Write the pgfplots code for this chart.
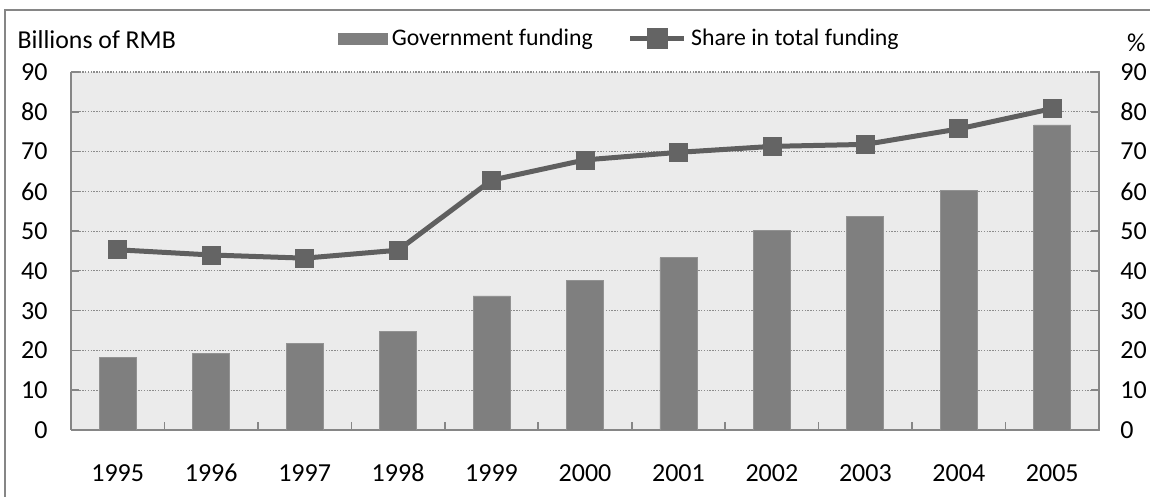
\documentclass[border=0pt]{standalone}
\usepackage{pgfplots}
\pgfplotsset{compat=1.18}
\usepackage{fontspec}
\setmainfont{Carlito}[Numbers=Lining]
\definecolor{bargray}{HTML}{7F7F7F}
\definecolor{linegray}{HTML}{5F5F5F}
\definecolor{markgray}{HTML}{646464}
\definecolor{bggray}{HTML}{EBEBEB}
\definecolor{axgray}{HTML}{868686}
\definecolor{gridgray}{HTML}{8C8C8C}
\newcommand{\fs}{\fontsize{13pt}{15.5pt}\selectfont}
\newcommand{\fl}{\fontsize{11.9pt}{14.5pt}\selectfont}
\newcommand{\ft}{\fontsize{12.9pt}{15.5pt}\selectfont}
\pgfplotsset{
  barlegend/.style={legend image code/.code={\fill[bargray] (0pt,-2.75pt) rectangle (24.5pt,2.75pt);}},
  linelegend/.style={legend image code/.code={%
    \draw[linegray, line width=2.8pt] (0pt,0pt) -- (27pt,0pt);
    \fill[markgray] (9.5pt,-4pt) rectangle (17.5pt,4pt);}},
}
\begin{document}
\begin{tikzpicture}
\path[use as bounding box] (0,0) rectangle (575pt,248.5pt);
\draw[color=axgray, line width=0.9pt] (2.5pt,-2pt) -- (2.5pt,243.5pt) -- (578pt,243.5pt);
\node[anchor=base west, inner sep=0pt, font=\ft] at (8.65pt,224.35pt) {Billions of RMB};
\node[anchor=base, inner sep=0pt, font=\ft] at (568.2pt,222.5pt) {\%};

\begin{axis}[
  at={(35.5pt,33.5pt)}, anchor=south west,
  width=514pt, height=179pt, scale only axis,
  xmin=-0.5, xmax=10.5, ymin=0, ymax=90,
  axis x line*=bottom, axis y line*=left,
  axis line style={axgray, line width=0.8pt},
  axis background/.style={fill=bggray},
  xtick={0.5,1.5,...,9.5}, xticklabels={},
  extra x ticks={0,1,...,10},
  extra x tick labels={1995,1996,1997,1998,1999,2000,2001,2002,2003,2004,2005},
  extra x tick style={major tick length=0pt},
  ytick={0,10,...,90},
  tick align=inside, major tick length=4pt,
  tick style={axgray, line width=0.8pt},
  ymajorgrids,
  grid style={gridgray, line width=0.6pt, dash pattern=on 0.7pt off 0.7pt},
  tick label style={font=\fs, text=black},
  /pgf/number format/assume math mode=true,
  yticklabel style={xshift=-8.2pt},
  xticklabel style={anchor=base, yshift=-26pt},
  legend columns=2,
  legend cell align=left,
  legend style={draw=none, fill=none, font=\fl, inner sep=0pt, outer sep=0pt,
    at={(0.2597,1.0936)}, anchor=west, column sep=0pt,
    /tikz/every even column/.append style={column sep=15.4pt}},
]
\addplot[ybar, bar width=18.5pt, bar shift=0pt, fill=bargray, draw=bargray!85!white, line width=0.4pt, barlegend]
  coordinates {(0,18.2) (1,19.2) (2,21.7) (3,24.7) (4,33.7) (5,37.6) (6,43.3) (7,50.2) (8,53.7) (9,60.2) (10,76.7)};
\addlegendentry{Government funding}
\addplot[sharp plot, color=linegray, line width=2.5pt, mark=square*, mark size=4.5pt,
  mark options={fill=markgray, draw=markgray, line width=0.4pt}, linelegend]
  coordinates {(0,45.3) (1,44.0) (2,43.2) (3,45.2) (4,62.8) (5,67.9) (6,69.8) (7,71.3) (8,71.8) (9,75.7) (10,80.8)};
\addlegendentry{Share in total funding}
\end{axis}

\begin{axis}[
  at={(35.5pt,33.5pt)}, anchor=south west,
  width=514pt, height=179pt, scale only axis,
  xmin=-0.5, xmax=10.5, ymin=0, ymax=90,
  axis y line*=right, axis x line=none,
  axis line style={axgray, line width=0.8pt},
  ytick={0,10,...,90},
  tick align=inside, major tick length=4pt,
  tick style={axgray, line width=0.8pt},
  tick label style={font=\fs, text=black},
  /pgf/number format/assume math mode=true,
  yticklabel style={xshift=7.2pt},
]
\end{axis}
\end{tikzpicture}
\end{document}
